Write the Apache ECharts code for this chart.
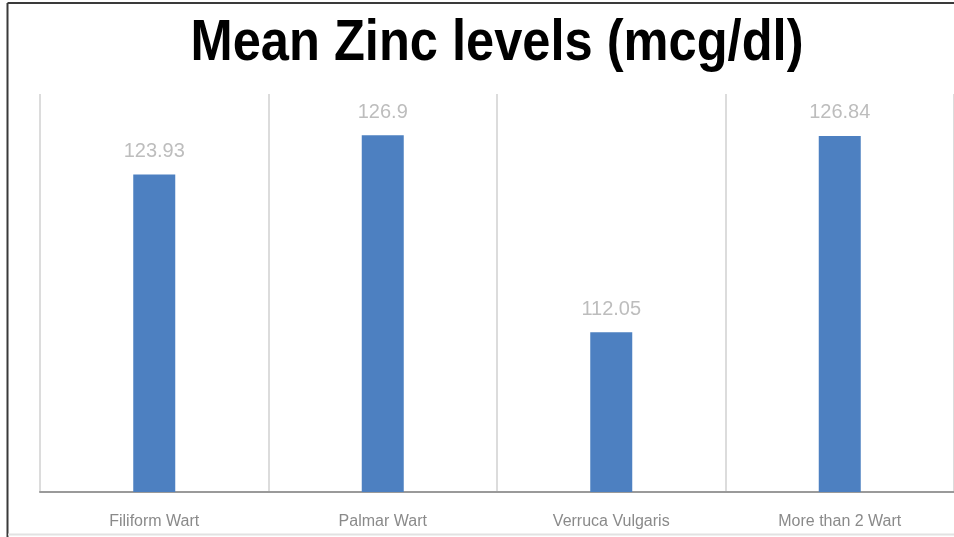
<!DOCTYPE html>
<html>
<head>
<meta charset="utf-8">
<style>
  html, body { margin: 0; padding: 0; background: #fff; }
  #chart { width: 954px; height: 537px; }
</style>
<script src="https://cdn.jsdelivr.net/npm/echarts@6/dist/echarts.min.js"></script>
</head>
<body>
<div id="chart"></div>
<script>
// Wart types and their mean serum zinc (mcg/dl)
const categories = ['Filiform Wart', 'Palmar Wart', 'Verruca Vulgaris', 'More than 2 Wart'];
const zincMeans = [123.93, 126.9, 112.05, 126.84];
const chartTitle = 'Mean Zinc levels (mcg/dl)';

const chart = echarts.init(document.getElementById('chart'), null, { renderer: 'canvas' });

chart.setOption({
  animation: false,
  backgroundColor: '#ffffff',
  grid: { left: 40, top: 94, width: 916, bottom: 45, containLabel: false },
  graphic: [
    // frame lines
    { type: 'line', shape: { x1: 7.5, y1: 3, x2: 954, y2: 3 }, style: { stroke: '#3a3a3a', lineWidth: 2 } },
    { type: 'line', shape: { x1: 7.5, y1: 3, x2: 7.5, y2: 537 }, style: { stroke: '#3a3a3a', lineWidth: 2 } },
    { type: 'line', shape: { x1: 8, y1: 534.5, x2: 954, y2: 534.5 }, style: { stroke: '#e2e2e2', lineWidth: 2 } },
    {
      type: 'text', x: 497, y: 44, scaleX: 0.92, scaleY: 1.03, originX: 0, originY: 0,
      style: {
        text: chartTitle, fill: '#000', align: 'center', verticalAlign: 'middle',
        font: 'bold 55px "Liberation Sans", Arial, sans-serif'
      }
    }
  ],
  xAxis: {
    type: 'category',
    data: categories,
    boundaryGap: true,
    axisLine: { show: true, lineStyle: { color: '#9a9a9a', width: 2 } },
    axisTick: { show: false },
    axisLabel: {
      color: '#8a8a8a', fontSize: 16, margin: 22,
      fontFamily: '"Liberation Sans", Arial, sans-serif'
    },
    splitLine: { show: true, lineStyle: { color: '#dcdcdc', width: 2 } }
  },
  yAxis: {
    type: 'value', min: 100, max: 130,
    show: false,
    splitLine: { show: false }
  },
  series: [{
    type: 'bar',
    data: zincMeans,
    barWidth: 42,
    itemStyle: { color: '#4d80c1' },
    label: {
      show: true, position: 'top', distance: 13,
      color: '#bdbdbd', fontSize: 20,
      fontFamily: '"Liberation Sans", Arial, sans-serif',
      formatter: p => String(p.value)
    }
  }]
});
</script>
</body>
</html>
